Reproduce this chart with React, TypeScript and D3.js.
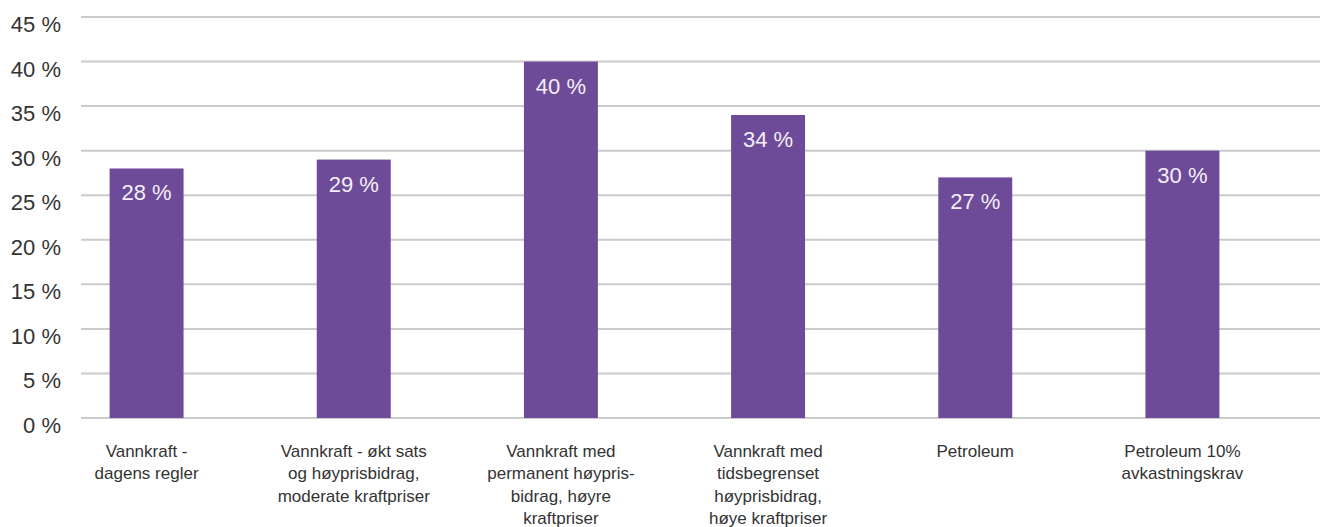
import React from "react";
import * as d3 from "d3";

const categories: string[][] = [
  ["Vannkraft -", "dagens regler"],
  ["Vannkraft - økt sats", "og høyprisbidrag,", "moderate kraftpriser"],
  ["Vannkraft med", "permanent høypris-", "bidrag, høyre", "kraftpriser"],
  ["Vannkraft med", "tidsbegrenset", "høyprisbidrag,", "høye kraftpriser"],
  ["Petroleum"],
  ["Petroleum 10%", "avkastningskrav"],
];
const values: number[] = [28, 29, 40, 34, 27, 30];
const yTicks: number[] = [0, 5, 10, 15, 20, 25, 30, 35, 40, 45];

const W = 1325;
const H = 527;
const FONT = "'Liberation Sans', Arial, Helvetica, sans-serif";

export default function App() {
  const keys = categories.map((_, i) => String(i));
  const x = d3.scaleBand<string>().domain(keys).range([43, 1286]).paddingInner(0.643).paddingOuter(0.3215);
  const y = d3.scaleLinear().domain([0, 45]).range([418, 17]);
  const bw = x.bandwidth();

  return (
    <svg
      width={W}
      height={H}
      style={{ position: "absolute", left: 0, top: 0, background: "#fff" }}
      fontFamily={FONT}
    >
      <g>
        {yTicks.map((t) => (
          <g key={t}>
            <line x1={81} x2={1320} y1={y(t)} y2={y(t)} stroke="#cbcbcb" strokeWidth={2} />
            <text x={61} y={y(t) + 15} textAnchor="end" fontSize={22} fill="#333">
              {`${t} %`}
            </text>
          </g>
        ))}
      </g>
      <g>
        {values.map((v, i) => {
          const bx = x(String(i))!;
          return (
            <g key={i}>
              <rect x={bx} y={y(v)} width={bw} height={y(0) - y(v)} fill="#6e4b98" />
              <text
                x={bx + bw / 2}
                y={y(v) + 32}
                textAnchor="middle"
                fontSize={22}
                fill="#f4eff8"
              >
                {`${v} %`}
              </text>
            </g>
          );
        })}
      </g>
      <g>
        {categories.map((lines, i) => {
          const cx = x(String(i))! + bw / 2;
          return (
            <text key={i} x={cx} y={y(0) + 38.5} textAnchor="middle" fontSize={17} fill="#333">
              {lines.map((l, j) => (
                <tspan key={j} x={cx} dy={j === 0 ? 0 : 22.5}>
                  {l}
                </tspan>
              ))}
            </text>
          );
        })}
      </g>
    </svg>
  );
}
